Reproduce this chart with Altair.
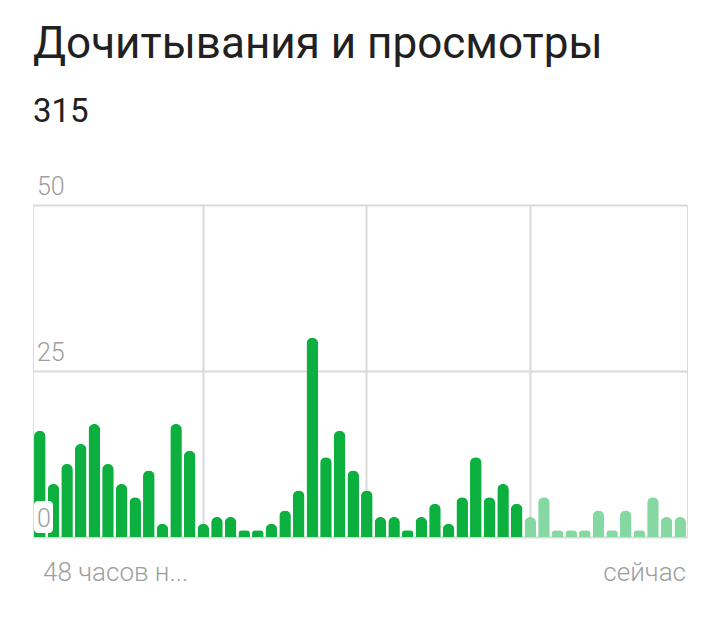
import altair as alt
import pandas as pd

# 48 hourly bars, oldest first ("48 часов назад" -> "сейчас")
values = [16, 8, 11, 14, 17, 11, 8, 6, 10, 2,
          17, 13, 2, 3, 3, 1, 1, 2, 4, 7,
          30, 12, 16, 10, 7, 3, 3, 1, 3, 5,
          2, 6, 12, 6, 8, 5,
          3, 6, 1, 1, 1, 4, 1, 4, 1, 6, 3, 3]
hours = list(range(48))
period = ["past"] * 36 + ["recent"] * 12
y_ticks = [0, 25, 50]
x_grid = [12, 24, 36]
title_text = "Дочитывания и просмотры"
total_text = "315"
left_label = "48 часов н..."
right_label = "сейчас"

df = pd.DataFrame({"hour": hours, "value": values, "period": period})
ticks_df = pd.DataFrame({"tick": y_ticks, "label": [str(t) for t in y_ticks]})

W, H = 654, 332
GRID = "#d9d9d9"
LABEL = "#9e9e9e"
FONT = "Roboto"

x_scale = alt.Scale(paddingInner=0.15, paddingOuter=0.075)
y_scale = alt.Scale(domain=[0, 50], nice=False)

bars = alt.Chart(df).mark_bar(
    cornerRadiusTopLeft=5.8, cornerRadiusTopRight=5.8
).encode(
    x=alt.X("hour:O", scale=x_scale,
            axis=alt.Axis(values=x_grid, grid=True, labels=False, ticks=False,
                          domain=False, title=None, gridColor=GRID, gridWidth=2)),
    y=alt.Y("value:Q", scale=y_scale,
            axis=alt.Axis(values=y_ticks, grid=True, labels=False, ticks=False,
                          domain=False, title=None, gridColor=GRID, gridWidth=2)),
    color=alt.Color("period:N", legend=None,
                    scale=alt.Scale(domain=["past", "recent"],
                                    range=["#0bb03f", "#86d8a3"])),
)

zero_bg = alt.Chart(ticks_df).transform_filter(alt.datum.tick == 0).mark_rect(
    color="white", cornerRadius=4
).encode(
    x=alt.value(1), x2=alt.value(20), y=alt.value(296), y2=alt.value(328)
)

tick_labels = alt.Chart(ticks_df).mark_text(
    align="left", baseline="alphabetic", dx=4, dy=-10,
    font=FONT, fontSize=25, fontWeight=300, color=LABEL
).encode(
    x=alt.value(0),
    y=alt.Y("tick:Q", scale=y_scale),
    text="label:N",
)

def txt(text, x, y, size, color, align="left", weight=400):
    return alt.Chart(pd.DataFrame({"t": [text]})).mark_text(
        align=align, baseline="alphabetic", font=FONT, fontSize=size,
        fontWeight=weight, color=color
    ).encode(x=alt.value(x), y=alt.value(y), text="t:N")

title = txt(title_text, 0, -147, 44, "#212121")
total = txt(total_text, 0, -83, 33, "#212121")
lab_left = txt(left_label, 10, 376, 26, LABEL, weight=300)
lab_right = txt(right_label, 653, 376, 26, LABEL, align="right", weight=300)

chart = alt.layer(
    bars, zero_bg, tick_labels, title, total, lab_left, lab_right
).properties(
    width=W, height=H,
    autosize=alt.AutoSizeParams(type="none"),
    padding={"left": 25, "top": 197, "right": 25, "bottom": 82},
).configure_view(
    stroke=GRID, strokeWidth=2
).configure(background="white")

chart.save("out.html", embed_options={"renderer": "svg", "actions": False})
